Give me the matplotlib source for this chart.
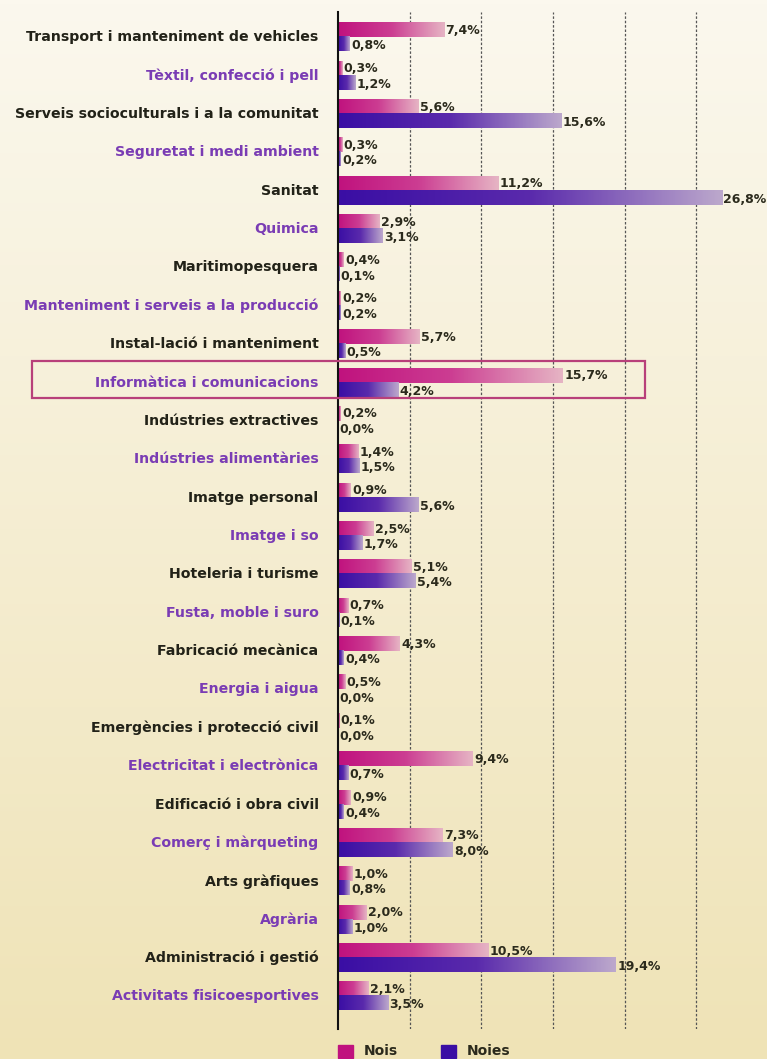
import numpy as np
import matplotlib
matplotlib.use("Agg")
import matplotlib.pyplot as plt
from matplotlib.colors import LinearSegmentedColormap
from matplotlib.patches import Rectangle

categories = [
    "Transport i manteniment de vehicles",
    "Tèxtil, confecció i pell",
    "Serveis socioculturals i a la comunitat",
    "Seguretat i medi ambient",
    "Sanitat",
    "Quimica",
    "Maritimopesquera",
    "Manteniment i serveis a la producció",
    "Instal-lació i manteniment",
    "Informàtica i comunicacions",
    "Indústries extractives",
    "Indústries alimentàries",
    "Imatge personal",
    "Imatge i so",
    "Hoteleria i turisme",
    "Fusta, moble i suro",
    "Fabricació mecànica",
    "Energia i aigua",
    "Emergències i protecció civil",
    "Electricitat i electrònica",
    "Edificació i obra civil",
    "Comerç i màrqueting",
    "Arts gràfiques",
    "Agrària",
    "Administració i gestió",
    "Activitats fisicoesportives",
]
nois = [7.4, 0.3, 5.6, 0.3, 11.2, 2.9, 0.4, 0.2, 5.7, 15.7, 0.2, 1.4, 0.9,
        2.5, 5.1, 0.7, 4.3, 0.5, 0.1, 9.4, 0.9, 7.3, 1.0, 2.0, 10.5, 2.1]
noies = [0.8, 1.2, 15.6, 0.2, 26.8, 3.1, 0.1, 0.2, 0.5, 4.2, 0.0, 1.5, 5.6,
         1.7, 5.4, 0.1, 0.4, 0.0, 0.0, 0.7, 0.4, 8.0, 0.8, 1.0, 19.4, 3.5]
highlight = "Informàtica i comunicacions"
legend_labels = ["Nois", "Noies"]

FONT = "DejaVu Sans"
W, H = 767, 1059
fig = plt.figure(figsize=(W / 100, H / 100), dpi=100)

# fons amb degradat crema -> groc
bg = fig.add_axes([0, 0, 1, 1], zorder=-10)
grad = np.linspace(0, 1, 256)[:, None]
bgmap = LinearSegmentedColormap.from_list("bg", ["#fbf8ee", "#efe3b6"])
bg.imshow(grad, aspect="auto", cmap=bgmap, extent=[0, 1, 0, 1], origin="upper")
bg.set_axis_off()

ax_l, ax_r, ax_t, ax_b = 338, 767, 12, 1029
ax = fig.add_axes([ax_l / W, 1 - ax_b / H, (ax_r - ax_l) / W, (ax_b - ax_t) / H])
ax.patch.set_alpha(0)

n = len(categories)
y = np.arange(n)
h = 0.365

cmap_nois = LinearSegmentedColormap.from_list("nois", ["#c0127e", "#cc3d92", "#e6b4c4"])
cmap_noies = LinearSegmentedColormap.from_list("noies", ["#3a0ea4", "#5a2aac", "#bca8cc"])
ramp = np.linspace(0, 1, 200)[None, :]

bars_a = ax.barh(y - h / 2, nois, height=h, color="none", edgecolor="none")
bars_b = ax.barh(y + h / 2, noies, height=h, color="none", edgecolor="none")

for bars, cm in ((bars_a, cmap_nois), (bars_b, cmap_noies)):
    for b in bars:
        x0, y0, w, hh = b.get_x(), b.get_y(), b.get_width(), b.get_height()
        if w <= 0:
            continue
        ax.imshow(ramp, cmap=cm, aspect="auto", extent=[x0, x0 + w, y0 + hh, y0],
                  interpolation="bilinear", zorder=2)

ax.set_xlim(0, 29.94)
ax.set_ylim(n - 1 + 0.85, -0.66)

for i in range(n):
    for val, off in ((nois[i], -h / 2), (noies[i], h / 2 + 0.04)):
        txt = f"{val:.1f}%".replace(".", ",")
        ax.text(val + 0.1, y[i] + off, txt, ha="left", va="center",
                fontsize=9.0, fontweight="bold", color="#2b2a1c",
                family=FONT, zorder=4, clip_on=False)

for gx in [5, 10, 15, 20, 25]:
    ax.axvline(gx, color="#555555", lw=0.9, ls=(0, (2, 1.5)), zorder=1)

ax.set_yticks(y)
ax.set_yticklabels(categories)
for i, lab in enumerate(ax.get_yticklabels()):
    lab.set_color("#7a3cb4" if i % 2 else "#222218")
    lab.set_fontweight("bold")
    lab.set_fontsize(10.2)
    lab.set_family(FONT)
    lab.set_va("center")
ax.tick_params(axis="y", length=0, pad=14)
ax.set_xticks([])
for s in ["top", "right", "bottom"]:
    ax.spines[s].set_visible(False)
ax.spines["left"].set_color("#111111")
ax.spines["left"].set_linewidth(1.5)

# requadre destacat
k = categories.index(highlight)
yc = ax.transData.transform((0, y[k]))[1]
box_top = yc + 22
box_bot = yc - 15
fig.add_artist(Rectangle((32 / W, box_bot / H), (645 - 32) / W, (box_top - box_bot) / H,
                         transform=fig.transFigure, fill=False,
                         edgecolor="#b8407a", lw=1.6, zorder=5))

# llegenda
for lx, col, lab in ((338, "#c0127e", legend_labels[0]), (441, "#3a0ea4", legend_labels[1])):
    fig.add_artist(Rectangle((lx / W, 1 - 1058 / H), 15 / W, 13 / H,
                             transform=fig.transFigure, color=col))
    fig.text((lx + 26) / W, 1 - 1051 / H, lab, ha="left", va="center",
             fontsize=10, fontweight="bold", color="#2b2a1c", family=FONT)

fig.savefig("out.png", dpi=100)
